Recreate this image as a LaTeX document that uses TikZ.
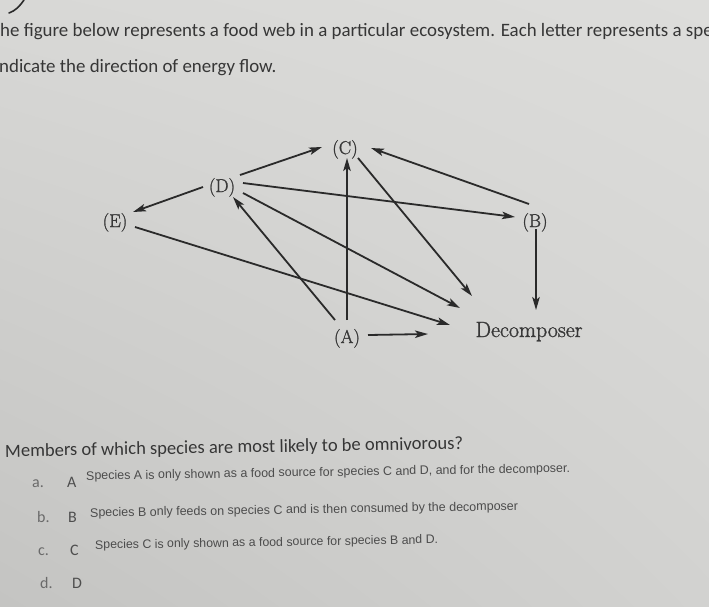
\documentclass[tikz,border=0pt]{standalone}
\usepackage{graphicx}
\usepackage{fontspec}
\newfontfamily\calfont{Carlito}
\newfontfamily\arfont{Liberation Sans}
\newfontfamily\lblfont{Latin Modern Roman}[FakeBold=1.3]
\usetikzlibrary{arrows.meta,shadings}
\definecolor{ink}{HTML}{2A2A2A}
\definecolor{lblink}{HTML}{383838}
\definecolor{hdr}{HTML}{363636}
\definecolor{optl}{HTML}{6A6A6A}
\definecolor{optL}{HTML}{4E4E4E}
\definecolor{small}{HTML}{4C4C4C}
\definecolor{bgUL}{HTML}{D8D8D6}
\definecolor{bgUR}{HTML}{DDDDDB}
\definecolor{bgLL}{HTML}{C4C4C2}
\definecolor{bgLR}{HTML}{D2D2D0}
\begin{document}
\begin{tikzpicture}[x=1pt,y=-1pt,
  lbl/.style={inner sep=0pt, anchor=base, text=lblink, font=\lblfont\fontsize{18.5}{20}\selectfont},
  flow/.style={draw=ink, line width=1.8pt, -{Stealth[length=13pt,width=7.5pt,inset=3pt]}},
  hline/.style={inner sep=0pt, anchor=base west, text=hdr, font=\calfont\fontsize{18.9}{20}\selectfont},
  qline/.style={inner sep=0pt, anchor=base west, text=hdr, font=\calfont, rotate=1},
  optlet/.style={inner sep=0pt, anchor=base west, text=optl, font=\calfont\fontsize{16}{18}\selectfont},
  optcap/.style={inner sep=0pt, anchor=base west, text=optL, font=\calfont\fontsize{16}{18}\selectfont},
  note/.style={inner sep=0pt, anchor=base west, text=small, font=\arfont, rotate=0.9}]
\useasboundingbox (0,0) rectangle (709,606);
\shade[upper left=bgUL, upper right=bgUR, lower left=bgLL, lower right=bgLR] (0,0) rectangle (709,606);
% pen mark
\draw[line width=1.6pt, line cap=round, color=ink] (9,13) .. controls (15,11) and (20,6) .. (24,0);
% header
\node[hline] (h1) at (0,36) {he figure below represents a food web in a particular ecosystem. Each letter represents a spe};
\node[hline] (h2) at (-1,72) {ndicate the direction of energy flow.};
% diagram labels
\node[lbl] (C) at (345,154) {(C)};
\node[lbl] (D) at (222,192) {(D)};
\node[lbl] (E) at (115,227) {(E)};
\node[lbl] (B) at (535,227) {(B)};
\node[lbl] (A) at (347,343) {(A)};
\node[lbl] (Dec) at (529,337) {\resizebox{107pt}{!}{Decomposer}};
% arrows
\draw[flow] ([shift={(18,-17)}]D.base) -- ([shift={(-23,-7)}]C.base);
\draw[flow] ([shift={(-19,-5)}]D.base) -- ([shift={(18,-15)}]E.base);
\draw[flow] ([shift={(21,-9)}]D.base) -- ([shift={(-20,-10)}]B.base);
\draw[flow] ([shift={(21,1)}]D.base) -- ([shift={(-69,-29)}]Dec.base);
\draw[flow] ([shift={(-12,-23)}]A.base) -- ([shift={(11,5)}]D.base);
\draw[flow] ([shift={(0,-23)}]A.base) -- ([shift={(2,4)}]C.base);
\draw[flow] ([shift={(13,4)}]C.base) -- ([shift={(-57,-41)}]Dec.base);
\draw[flow] ([shift={(-6,-23)}]B.base) -- ([shift={(26,-6)}]C.base);
\draw[flow] ([shift={(20,0)}]E.base) -- ([shift={(-79,-12)}]Dec.base);
\draw[flow] ([shift={(21,-8)}]A.base) -- ([shift={(-101,-3)}]Dec.base);
\draw[flow] ([shift={(1,2)}]B.base) -- ([shift={(7,-27)}]Dec.base);
% question
\node[qline] (q) at (5,457) {\resizebox{458pt}{!}{Members of which species are most likely to be omnivorous?}};
\node[optlet] (oa) at (32,487) {a.};
\node[optcap] (oA) at (67,487) {A};
\node[note] (na) at (86,480) {\resizebox{484pt}{!}{Species A is only shown as a food source for species C and D, and for the decomposer.}};
\node[optlet] (ob) at (37,522) {b.};
\node[optcap] (oB) at (68,522) {B};
\node[note] (nb) at (90,517) {\resizebox{428pt}{!}{Species B only feeds on species C and is then consumed by the decomposer}};
\node[optlet] (oc) at (38,555) {c.};
\node[optcap] (oC) at (70,555) {C};
\node[note] (nc) at (95,549) {\resizebox{343pt}{!}{Species C is only shown as a food source for species B and D.}};
\node[optlet] (od) at (40,588) {d.};
\node[optcap] (oD) at (72,588) {D};
\end{tikzpicture}
\end{document}
